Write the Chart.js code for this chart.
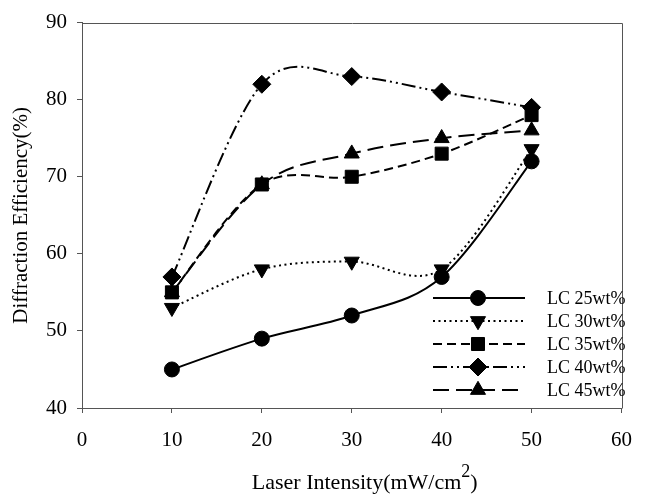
<!DOCTYPE html>
<html><head><meta charset="utf-8">
<script src="https://cdn.jsdelivr.net/npm/chart.js@4.4.0/dist/chart.umd.min.js"></script>
<style>html,body{margin:0;padding:0;background:#fff}#wrap{width:647px;height:494px;position:relative}</style>
</head><body><div id="wrap"><canvas id="c" width="647" height="494"></canvas></div>
<script>
// ---- data ----
const intensities = [10, 20, 30, 40, 50];
const seriesNames = ['LC 25wt%', 'LC 30wt%', 'LC 35wt%', 'LC 40wt%', 'LC 45wt%'];
const lc25 = [45, 49, 52, 57, 72];
const lc30 = [53, 58, 59, 58, 73.6];
const lc35 = [55, 69, 70, 73, 78];
const lc40 = [57, 82, 83, 81, 79];
const lc45 = [55, 69, 73, 75, 76];
const xTicks = [0, 10, 20, 30, 40, 50, 60];
const yTicks = [40, 50, 60, 70, 80, 90];
const xTitleMain = 'Laser Intensity(mW/cm';
const xTitleSup = '2';
const xTitleEnd = ')';
const yTitle = 'Diffraction Efficiency(%)';

// ---- styles ----
const seriesValues = [lc25, lc30, lc35, lc40, lc45];
const styles = [
  {dash: [], pointStyle: 'circle', radius: 7.5, rotation: 0},
  {dash: [2, 3.5], pointStyle: 'triangle', radius: 8.7, rotation: 180},
  {dash: [9, 5], pointStyle: 'rect', radius: 9.2, rotation: 0},
  {dash: [14, 4, 2, 4, 2, 4], pointStyle: 'rectRot', radius: 9, rotation: 0},
  {dash: [16, 7], pointStyle: 'triangle', radius: 8.7, rotation: 0}
];
const FONT = "'Liberation Serif', 'Times New Roman', serif";
const AXIS = '#555';

const datasets = seriesNames.map((name, i) => ({
  label: name,
  data: intensities.map((x, j) => ({x: x, y: seriesValues[i][j]})),
  borderColor: '#000',
  backgroundColor: '#000',
  borderWidth: 2,
  borderDash: styles[i].dash,
  tension: 0.4,
  fill: false,
  pointStyle: styles[i].pointStyle,
  pointRadius: styles[i].radius,
  pointHoverRadius: styles[i].radius,
  pointRotation: styles[i].rotation,
  pointBackgroundColor: '#000',
  pointBorderColor: '#000',
  pointBorderWidth: 1
}));

// Excel-like smoothing: Catmull-Rom style control points (1/6 of neighbour span)
const smoothPlugin = {
  id: 'excelSmooth',
  beforeDatasetsDraw(chart) {
    chart.data.datasets.forEach((ds, i) => {
      const meta = chart.getDatasetMeta(i);
      if (!meta || !meta.dataset) return;
      meta.dataset.updateControlPoints(chart.chartArea, 'x');
      const pts = meta.data;
      const n = pts.length;
      for (let k = 0; k < n; k++) {
        const p = pts[k];
        const prev = pts[Math.max(0, k - 1)];
        const next = pts[Math.min(n - 1, k + 1)];
        const dx = (next.x - prev.x) / 6;
        const dy = (next.y - prev.y) / 6;
        p.cp1x = p.x - dx; p.cp1y = p.y - dy;
        p.cp2x = p.x + dx; p.cp2y = p.y + dy;
      }
    });
  }
};

function fallbackPoint(ctx, st, x, y) {
  ctx.beginPath();
  ctx.arc(x, y, st.radius, 0, Math.PI * 2);
  ctx.fill();
}

const framePlugin = {
  id: 'frame',
  afterDraw(chart) {
    const {ctx, chartArea: a} = chart;
    ctx.save();
    ctx.strokeStyle = AXIS;
    ctx.lineWidth = 1;
    ctx.beginPath();
    ctx.moveTo(Math.round(a.left) + 0.5, Math.round(a.top) + 0.5);
    ctx.lineTo(Math.round(a.right) + 0.5, Math.round(a.top) + 0.5);
    ctx.lineTo(Math.round(a.right) + 0.5, Math.round(a.bottom) + 0.5);
    ctx.stroke();

    // x-axis title with superscript
    ctx.fillStyle = '#000';
    ctx.textBaseline = 'alphabetic';
    ctx.textAlign = 'left';
    const mainFont = '22px ' + FONT;
    const supFont = '18px ' + FONT;
    ctx.font = mainFont;
    const w1 = ctx.measureText(xTitleMain).width;
    const w3 = ctx.measureText(xTitleEnd).width;
    ctx.font = supFont;
    const w2 = ctx.measureText(xTitleSup).width;
    const total = w1 + w2 + w3;
    const cx = (a.left + a.right) / 2 + 13;
    let x = cx - total / 2;
    const base = 489;
    ctx.font = mainFont;
    ctx.fillText(xTitleMain, x, base);
    ctx.font = supFont;
    ctx.fillText(xTitleSup, x + w1, base - 12);
    ctx.font = mainFont;
    ctx.fillText(xTitleEnd, x + w1 + w2, base);

    // legend
    const rowY = [298, 321, 344, 367, 390];
    const lx0 = 433, lx1 = 525, mx = 478, tx = 547;
    ctx.font = '18px ' + FONT;
    ctx.textBaseline = 'middle';
    seriesNames.forEach((name, i) => {
      const st = styles[i];
      const y = rowY[i];
      ctx.save();
      ctx.strokeStyle = '#000';
      ctx.lineWidth = 2;
      ctx.setLineDash(st.dash);
      ctx.beginPath();
      ctx.moveTo(lx0, y);
      ctx.lineTo(lx1, y);
      ctx.stroke();
      ctx.setLineDash([]);
      ctx.fillStyle = '#000';
      ctx.lineWidth = 1;
      if (Chart.helpers && Chart.helpers.drawPoint) {
        Chart.helpers.drawPoint(ctx, {pointStyle: st.pointStyle, radius: st.radius, rotation: st.rotation, borderWidth: 1}, mx, y);
      } else {
        fallbackPoint(ctx, st, mx, y);
      }
      ctx.restore();
      ctx.fillStyle = '#000';
      ctx.fillText(name, tx, y + 1);
    });
    ctx.restore();
  }
};

new Chart(document.getElementById('c'), {
  type: 'line',
  data: {datasets: datasets},
  plugins: [smoothPlugin, framePlugin],
  options: {
    responsive: false,
    devicePixelRatio: 1,
    animation: false,
    layout: {padding: {top: 20, right: 13, left: 0, bottom: 0}},
    plugins: {legend: {display: false}, tooltip: {enabled: false}},
    scales: {
      x: {
        type: 'linear',
        min: 0, max: 60,
        afterBuildTicks: s => { s.ticks = xTicks.map(v => ({value: v})); },
        afterFit: s => { s.height = 86; },
        ticks: {color: '#000', font: {family: FONT, size: 21}, padding: 15, maxRotation: 0},
        grid: {drawOnChartArea: false, tickLength: 5, color: AXIS},
        border: {color: AXIS, width: 1},
        title: {display: false}
      },
      y: {
        type: 'linear',
        min: 40, max: 90,
        afterBuildTicks: s => { s.ticks = yTicks.map(v => ({value: v})); },
        afterFit: s => { s.width = 82; },
        ticks: {color: '#000', font: {family: FONT, size: 21}, padding: 10},
        grid: {drawOnChartArea: false, tickLength: 5, color: AXIS},
        border: {color: AXIS, width: 1},
        title: {display: true, text: yTitle, color: '#000', font: {family: FONT, size: 21}, padding: {top: 9, bottom: 0}}
      }
    }
  }
});
</script>
</body></html>
